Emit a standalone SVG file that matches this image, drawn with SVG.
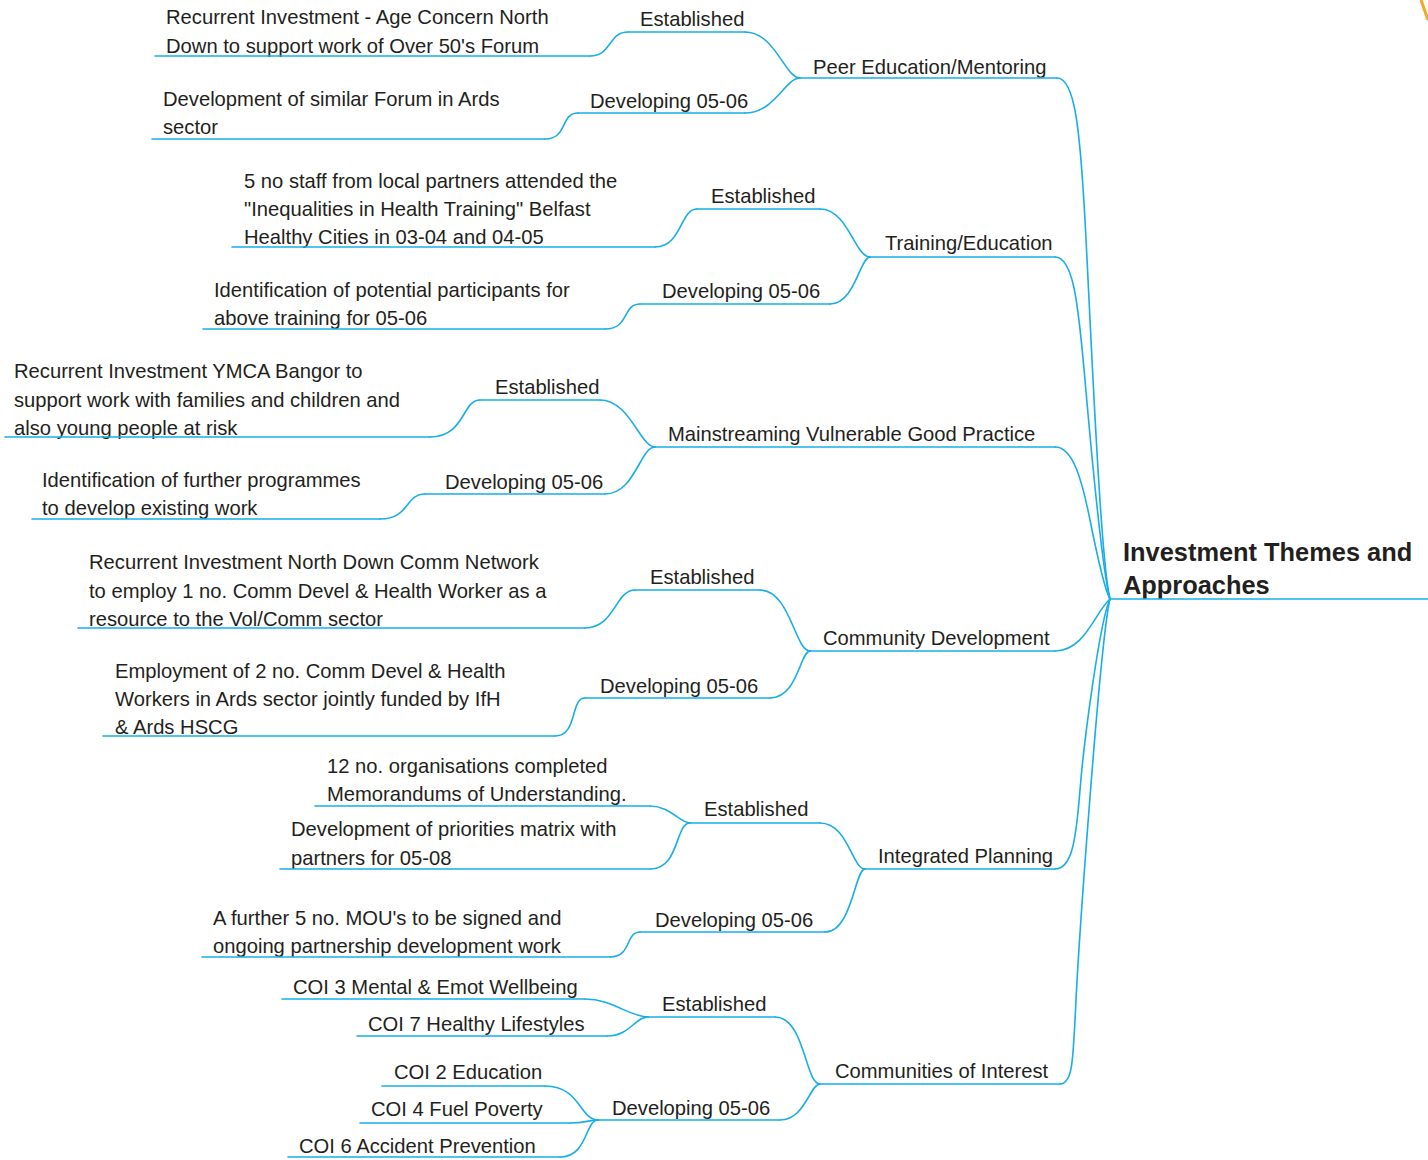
<svg xmlns="http://www.w3.org/2000/svg" width="1428" height="1160" viewBox="0 0 1428 1160">
  <style>
    text { font-family: "Liberation Sans", Arial, Helvetica, sans-serif; font-size: 20.2px; fill: #231f20; }
    .root { font-size: 25.4px; font-weight: bold; }
    .ul, .cn { fill: none; stroke: #18aee8; stroke-width: 1.6; stroke-linecap: round; }
  </style>
  <rect width="1428" height="1160" fill="#ffffff"/>
  <path d="M1421,0 L1428,20" stroke="#f5a623" stroke-width="3" fill="none"/>

  <!-- connectors: curves between underlines -->
  <g id="connectors">
    <!-- themes to root -->
    <path class="cn" d="M1057,78 C1075,78 1080,130 1085,220 S1100,560 1110,599"/>
    <path class="cn" d="M1055,257 C1073,257 1078,300 1085,380 S1102,570 1110,599"/>
    <path class="cn" d="M1055,447 C1073,447 1082,480 1090,520 S1105,590 1110,599"/>
    <path class="cn" d="M1055,651 C1085,651 1095,612 1110,599"/>
    <path class="cn" d="M1055,869 C1072,869 1076,840 1080,790 S1100,620 1110,599"/>
    <path class="cn" d="M1060,1084 C1073,1084 1073,1060 1076,1000 S1100,640 1110,599"/>

    <!-- Peer Education/Mentoring -->
    <path class="cn" d="M745,32 C775,32 785,78 800,78"/>
    <path class="cn" d="M745,113 C775,113 785,78 800,78"/>
    <path class="cn" d="M590,56 C612,56 608,32 628,32"/>
    <path class="cn" d="M545,139 C568,139 560,113 578,113"/>

    <!-- Training/Education -->
    <path class="cn" d="M820,209 C848,209 855,257 870,257"/>
    <path class="cn" d="M830,304 C855,304 860,257 870,257"/>
    <path class="cn" d="M655,247 C682,247 680,209 697,209"/>
    <path class="cn" d="M605,329 C630,329 622,304 640,304"/>

    <!-- Mainstreaming Vulnerable Good Practice -->
    <path class="cn" d="M600,400 C630,400 640,447 655,447"/>
    <path class="cn" d="M605,494 C635,494 640,447 655,447"/>
    <path class="cn" d="M430,437 C465,437 462,400 480,400"/>
    <path class="cn" d="M380,519 C410,519 405,494 425,494"/>

    <!-- Community Development -->
    <path class="cn" d="M760,590 C790,590 795,651 810,651"/>
    <path class="cn" d="M770,698 C798,698 800,651 810,651"/>
    <path class="cn" d="M585,628 C615,628 615,590 635,590"/>
    <path class="cn" d="M555,736 C578,736 570,698 585,698"/>

    <!-- Integrated Planning -->
    <path class="cn" d="M820,823 C848,823 852,869 865,869"/>
    <path class="cn" d="M825,932 C852,932 855,869 865,869"/>
    <path class="cn" d="M650,806 C670,806 680,823 690,823"/>
    <path class="cn" d="M650,869 C680,869 675,823 690,823"/>
    <path class="cn" d="M610,957 C632,957 625,932 640,932"/>

    <!-- Communities of Interest -->
    <path class="cn" d="M775,1017 C805,1017 805,1084 820,1084"/>
    <path class="cn" d="M780,1120 C805,1120 810,1084 820,1084"/>
    <path class="cn" d="M585,999 C612,999 630,1017 648,1017"/>
    <path class="cn" d="M607,1036 C630,1036 635,1017 648,1017"/>
    <path class="cn" d="M545,1086 C580,1086 580,1120 598,1120"/>
    <path class="cn" d="M570,1123 C585,1123 590,1120 598,1120"/>
    <path class="cn" d="M560,1157 C588,1157 585,1120 598,1120"/>
  </g>

  <!-- root -->
  <g id="root">
    <text class="root" x="1123" y="561">Investment Themes and</text>
    <text class="root" x="1123" y="594">Approaches</text>
    <path class="ul" d="M1110,599 H1428"/>
  </g>

  <!-- themes -->
  <g id="peer">
    <text x="813" y="74">Peer Education/Mentoring</text>
    <path class="ul" d="M800,78 H1057"/>
  </g>
  <g id="training">
    <text x="885" y="250">Training/Education</text>
    <path class="ul" d="M870,257 H1055"/>
  </g>
  <g id="mainstreaming">
    <text x="668" y="441">Mainstreaming Vulnerable Good Practice</text>
    <path class="ul" d="M655,447 H1055"/>
  </g>
  <g id="community">
    <text x="823" y="645">Community Development</text>
    <path class="ul" d="M810,651 H1055"/>
  </g>
  <g id="integrated">
    <text x="878" y="863">Integrated Planning</text>
    <path class="ul" d="M865,869 H1055"/>
  </g>
  <g id="coi">
    <text x="835" y="1078">Communities of Interest</text>
    <path class="ul" d="M820,1084 H1060"/>
  </g>

  <!-- Peer Education/Mentoring: stages and items -->
  <g id="peer-est">
    <text x="640" y="26">Established</text>
    <path class="ul" d="M628,32 H745"/>
  </g>
  <g id="peer-dev">
    <text x="590" y="108">Developing 05-06</text>
    <path class="ul" d="M578,113 H745"/>
  </g>
  <g id="peer-est-1">
    <text x="166" y="24">Recurrent Investment - Age Concern North</text>
    <text x="166" y="53">Down to support work of Over 50's Forum</text>
    <path class="ul" d="M155,56 H590"/>
  </g>
  <g id="peer-dev-1">
    <text x="163" y="106">Development of similar Forum in Ards</text>
    <text x="163" y="134">sector</text>
    <path class="ul" d="M152,139 H545"/>
  </g>

  <!-- Training/Education -->
  <g id="training-est">
    <text x="711" y="203">Established</text>
    <path class="ul" d="M697,209 H820"/>
  </g>
  <g id="training-dev">
    <text x="662" y="298">Developing 05-06</text>
    <path class="ul" d="M640,304 H830"/>
  </g>
  <g id="training-est-1">
    <text x="244" y="188">5 no staff from local partners attended the</text>
    <text x="244" y="216">"Inequalities in Health Training" Belfast</text>
    <text x="244" y="244">Healthy Cities in 03-04 and 04-05</text>
    <path class="ul" d="M232,247 H655"/>
  </g>
  <g id="training-dev-1">
    <text x="214" y="297">Identification of potential participants for</text>
    <text x="214" y="325">above training for 05-06</text>
    <path class="ul" d="M203,329 H605"/>
  </g>

  <!-- Mainstreaming Vulnerable Good Practice -->
  <g id="mainstreaming-est">
    <text x="495" y="394">Established</text>
    <path class="ul" d="M480,400 H600"/>
  </g>
  <g id="mainstreaming-dev">
    <text x="445" y="489">Developing 05-06</text>
    <path class="ul" d="M425,494 H605"/>
  </g>
  <g id="mainstreaming-est-1">
    <text x="14" y="378">Recurrent Investment YMCA Bangor to</text>
    <text x="14" y="407">support work with families and children and</text>
    <text x="14" y="435">also young people at risk</text>
    <path class="ul" d="M5,437 H430"/>
  </g>
  <g id="mainstreaming-dev-1">
    <text x="42" y="487">Identification of further programmes</text>
    <text x="42" y="515">to develop existing work</text>
    <path class="ul" d="M32,519 H380"/>
  </g>

  <!-- Community Development -->
  <g id="community-est">
    <text x="650" y="584">Established</text>
    <path class="ul" d="M635,590 H760"/>
  </g>
  <g id="community-dev">
    <text x="600" y="693">Developing 05-06</text>
    <path class="ul" d="M585,698 H770"/>
  </g>
  <g id="community-est-1">
    <text x="89" y="569">Recurrent Investment North Down Comm Network</text>
    <text x="89" y="598">to employ 1 no. Comm Devel &amp; Health Worker as a</text>
    <text x="89" y="626">resource to the Vol/Comm sector</text>
    <path class="ul" d="M78,628 H585"/>
  </g>
  <g id="community-dev-1">
    <text x="115" y="678">Employment of 2 no. Comm Devel &amp; Health</text>
    <text x="115" y="706">Workers in Ards sector jointly funded by IfH</text>
    <text x="115" y="734">&amp; Ards HSCG</text>
    <path class="ul" d="M103,736 H555"/>
  </g>

  <!-- Integrated Planning -->
  <g id="integrated-est">
    <text x="704" y="816">Established</text>
    <path class="ul" d="M690,823 H820"/>
  </g>
  <g id="integrated-dev">
    <text x="655" y="927">Developing 05-06</text>
    <path class="ul" d="M640,932 H825"/>
  </g>
  <g id="integrated-est-1">
    <text x="327" y="773">12 no. organisations completed</text>
    <text x="327" y="801">Memorandums of Understanding.</text>
    <path class="ul" d="M315,806 H650"/>
  </g>
  <g id="integrated-est-2">
    <text x="291" y="836">Development of priorities matrix with</text>
    <text x="291" y="865">partners for 05-08</text>
    <path class="ul" d="M280,869 H650"/>
  </g>
  <g id="integrated-dev-1">
    <text x="213" y="925">A further 5 no. MOU's to be signed and</text>
    <text x="213" y="953">ongoing partnership development work</text>
    <path class="ul" d="M202,957 H610"/>
  </g>

  <!-- Communities of Interest -->
  <g id="coi-est">
    <text x="662" y="1011">Established</text>
    <path class="ul" d="M648,1017 H775"/>
  </g>
  <g id="coi-dev">
    <text x="612" y="1115">Developing 05-06</text>
    <path class="ul" d="M598,1120 H780"/>
  </g>
  <g id="coi-3">
    <text x="293" y="994">COI 3 Mental &amp; Emot Wellbeing</text>
    <path class="ul" d="M282,999 H585"/>
  </g>
  <g id="coi-7">
    <text x="368" y="1031">COI 7 Healthy Lifestyles</text>
    <path class="ul" d="M357,1036 H607"/>
  </g>
  <g id="coi-2">
    <text x="394" y="1079">COI 2 Education</text>
    <path class="ul" d="M382,1086 H545"/>
  </g>
  <g id="coi-4">
    <text x="371" y="1116">COI 4 Fuel Poverty</text>
    <path class="ul" d="M360,1123 H570"/>
  </g>
  <g id="coi-6">
    <text x="299" y="1153">COI 6 Accident Prevention</text>
    <path class="ul" d="M288,1157 H560"/>
  </g>
</svg>
